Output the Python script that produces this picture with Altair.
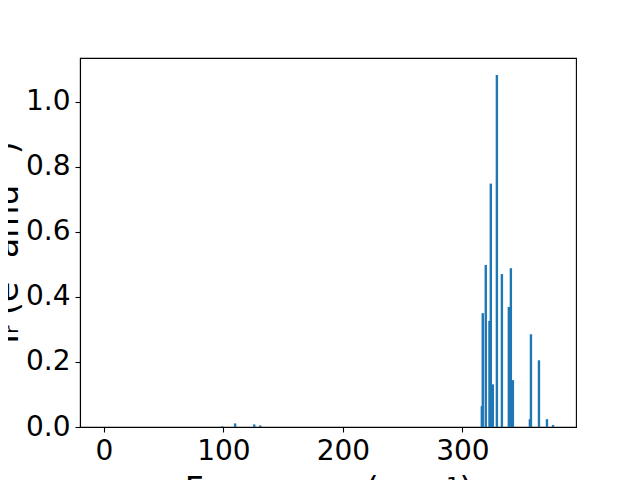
import altair as alt
import pandas as pd

freq = [98.9, 109.8, 125.8, 130.8,
        316.2, 317.0, 319.5, 322.6, 323.7, 325.4, 328.8, 333.0,
        338.8, 340.5, 342.2, 356.4, 357.3, 364.0, 370.7, 375.8]
intensity = [0.002, 0.011, 0.008, 0.005,
             0.064, 0.350, 0.498, 0.326, 0.748, 0.131, 1.082, 0.470,
             0.369, 0.488, 0.144, 0.024, 0.285, 0.205, 0.024, 0.006]
bar_width = 2.0
x_ticks = [0, 100, 200, 300]
y_ticks = [0.0, 0.2, 0.4, 0.6, 0.8, 1.0]

df = pd.DataFrame({"freq": freq, "ir": intensity, "order": list(range(len(freq)))})

chart = alt.Chart(df).mark_bar(color="#1f77b4").transform_calculate(
    x0=f"datum.freq - {bar_width/2}",
    x1=f"datum.freq + {bar_width/2}",
).encode(
    x=alt.X("x0:Q",
            scale=alt.Scale(domain=[-20, 395], nice=False, zero=False),
            axis=alt.Axis(title="Frequency (cm⁻¹)", values=x_ticks, format="d",
                          grid=False, titleY=73, titleBaseline="alphabetic")),
    x2="x1:Q",
    y=alt.Y("ir:Q",
            scale=alt.Scale(domain=[0, 1.134], nice=False),
            axis=alt.Axis(title="Iᵣ (e² amu⁻¹)", values=y_ticks, format=".1f",
                          grid=False, titleX=-63, titleY=184, titleAngle=270,
                          titleBaseline="alphabetic", titleAlign="center")),
    y2=alt.datum(0),
    order="order:Q",
).properties(
    width=496, height=369,
    autosize=alt.AutoSizeParams(type="none"),
    padding={"left": 72, "top": 50, "right": 56, "bottom": 53},
).configure_view(
    stroke="black", strokeWidth=1.1
).configure_axis(
    labelFont="DejaVu Sans", labelFontSize=28, labelColor="black",
    titleFont="DejaVu Sans", titleFontSize=33, titleColor="black", titleFontWeight="normal",
    domainColor="black", domainWidth=1.1, tickColor="black", tickWidth=1.1, tickSize=5,
    labelPadding=5,
)

chart.save("out.html", embed_options={"renderer": "svg", "actions": False})
